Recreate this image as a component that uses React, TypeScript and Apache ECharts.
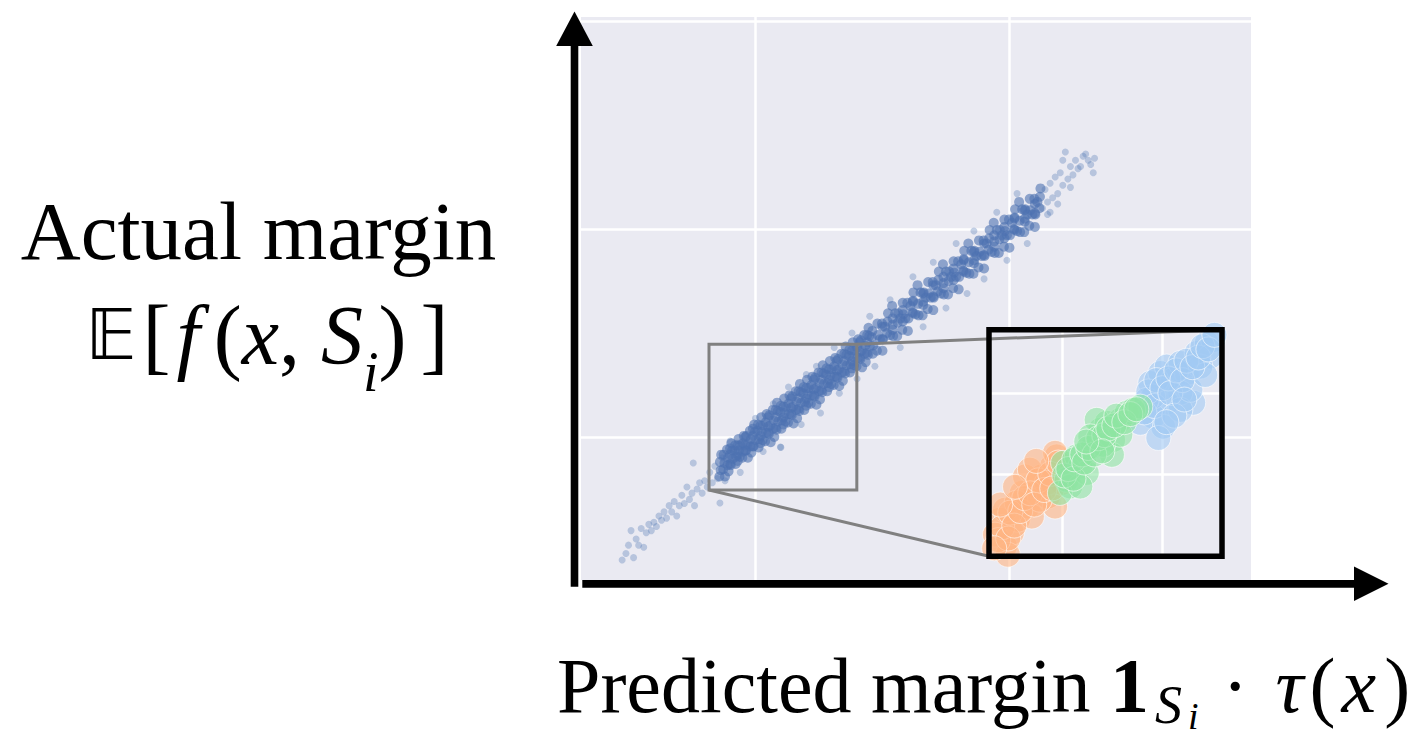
import React, { useEffect, useRef } from "react";
import * as echarts from "echarts";

// ---- axis ranges and gridline values (data units) ----
const MAIN_X_RANGE = [-0.687, 1.951];
const MAIN_Y_RANGE = [-0.6875, 2.019];
const MAIN_X_GRID = [0, 1];
const MAIN_Y_GRID = [0, 1, 2];
const ZOOM_X_RANGE = [-0.183, 0.399];
const ZOOM_Y_RANGE = [-0.255, 0.446];
const INSET_X_GRID = [0, 0.25];
const INSET_Y_GRID = [0, 0.25];

// ---- main scatter: dense core of the band ----
const bandCore = [
  [-0.142,-0.19],[-0.137,-0.16],[-0.140,-0.12],[-0.135,-0.085],
  [-0.127,-0.155],[-0.122,-0.125],[-0.125,-0.085],[-0.120,-0.19],
  [-0.112,-0.06],[-0.108,-0.10],[-0.110,-0.135],[-0.106,-0.165],
  [-0.097,-0.135],[-0.092,-0.065],[-0.095,-0.03],[-0.090,-0.105],
  [-0.082,-0.065],[-0.078,-0.13],[-0.080,-0.04],[-0.076,-0.095],
  [-0.067,-0.01],[-0.062,-0.095],[-0.065,-0.065],[-0.060,-0.04],
  [-0.052,-0.10],[-0.048,-0.07],[-0.050,-0.03],[-0.046,0.005],
  [-0.037,-0.065],[-0.032,-0.035],[-0.035,0.005],[-0.030,-0.10],
  [-0.022,0.03],[-0.018,-0.01],[-0.020,-0.045],[-0.016,-0.075],
  [-0.007,-0.045],[-0.002,0.025],[-0.005,0.06],[0.000,-0.015],
  [0.008,0.03],[0.012,-0.05],[0.010,0.06],[0.014,-0.01],
  [0.023,0.095],[0.028,-0.015],[0.025,0.025],[0.030,0.055],
  [0.038,-0.02],[0.042,0.02],[0.040,0.07],[0.044,0.11],
  [0.053,0.015],[0.058,0.055],[0.055,0.105],[0.060,-0.025],
  [0.068,0.13],[0.072,0.08],[0.070,0.04],[0.074,0.00],
  [0.083,0.035],[0.088,0.125],[0.085,0.165],[0.090,0.075],
  [0.098,0.12],[0.102,0.04],[0.100,0.15],[0.104,0.08],
  [0.113,0.185],[0.118,0.075],[0.115,0.115],[0.120,0.145],
  [0.128,0.07],[0.132,0.11],[0.130,0.16],[0.134,0.20],
  [0.143,0.105],[0.148,0.145],[0.145,0.195],[0.150,0.065],
  [0.158,0.22],[0.162,0.17],[0.160,0.13],[0.164,0.09],
  [0.173,0.125],[0.178,0.215],[0.175,0.255],[0.180,0.165],
  [0.188,0.21],[0.192,0.13],[0.190,0.24],[0.194,0.17],
  [0.203,0.275],[0.208,0.165],[0.205,0.205],[0.210,0.235],
  [0.218,0.16],[0.222,0.20],[0.220,0.25],[0.224,0.29],
  [0.233,0.195],[0.238,0.235],[0.235,0.285],[0.240,0.155],
  [0.248,0.31],[0.252,0.26],[0.250,0.22],[0.254,0.18],
  [0.263,0.215],[0.268,0.305],[0.265,0.345],[0.270,0.255],
  [0.278,0.30],[0.282,0.22],[0.280,0.33],[0.284,0.26],
  [0.293,0.365],[0.298,0.255],[0.295,0.295],[0.300,0.325],
  [0.308,0.25],[0.312,0.29],[0.310,0.34],[0.314,0.38],
  [0.323,0.285],[0.328,0.325],[0.325,0.375],[0.330,0.245],
  [0.338,0.40],[0.342,0.35],[0.340,0.31],[0.344,0.27],
  [0.353,0.305],[0.358,0.395],[0.355,0.435],[0.360,0.345],
  [0.368,0.39],[0.372,0.31],[0.370,0.42],[0.374,0.35],
  [0.383,0.455],[0.388,0.345],[0.385,0.385],[0.390,0.415],
  [0.398,0.34],[0.402,0.38],[0.400,0.43],[0.404,0.47],
  [0.413,0.375],[0.418,0.415],[0.415,0.465],[0.420,0.335],
  [0.428,0.49],[0.432,0.44],[0.430,0.40],[0.434,0.36],
  [0.443,0.395],[0.448,0.485],[0.445,0.525],[0.450,0.435],
  [0.458,0.48],[0.462,0.40],[0.460,0.51],[0.464,0.44],
  [0.478,0.415],[0.482,0.49],[0.48,0.545],[0.49,0.47],
  [0.498,0.545],[0.502,0.47],[0.50,0.415],[0.51,0.53],
  [0.518,0.50],[0.522,0.595],[0.52,0.555],[0.53,0.49],
  [0.538,0.63],[0.542,0.485],[0.54,0.54],[0.55,0.595],
  [0.558,0.485],[0.562,0.595],[0.56,0.55],[0.57,0.57],
  [0.578,0.515],[0.582,0.59],[0.58,0.645],[0.59,0.57],
  [0.598,0.645],[0.602,0.57],[0.60,0.51],[0.61,0.63],
  [0.618,0.60],[0.622,0.695],[0.62,0.655],[0.63,0.59],
  [0.638,0.73],[0.642,0.585],[0.64,0.64],[0.65,0.695],
  [0.658,0.585],[0.662,0.695],[0.66,0.65],[0.67,0.67],
  [0.678,0.615],[0.682,0.69],[0.68,0.745],[0.69,0.67],
  [0.698,0.745],[0.702,0.67],[0.70,0.61],[0.71,0.73],
  [0.718,0.70],[0.722,0.795],[0.72,0.755],[0.73,0.69],
  [0.738,0.83],[0.742,0.685],[0.74,0.74],[0.75,0.795],
  [0.758,0.685],[0.762,0.795],[0.76,0.75],[0.77,0.77],
  [0.778,0.715],[0.782,0.79],[0.78,0.845],[0.79,0.77],
  [0.798,0.845],[0.802,0.77],[0.80,0.71],[0.81,0.83],
  [0.818,0.80],[0.822,0.895],[0.82,0.855],[0.83,0.79],
  [0.838,0.93],[0.842,0.785],[0.84,0.84],[0.85,0.895],
  [0.858,0.785],[0.862,0.895],[0.86,0.85],[0.87,0.87],
  [0.878,0.815],[0.882,0.89],[0.88,0.945],[0.89,0.87],
  [0.898,0.945],[0.902,0.87],[0.90,0.81],[0.91,0.93],
  [0.918,0.90],[0.922,0.995],[0.92,0.955],[0.93,0.89],
  [0.938,1.03],[0.942,0.885],[0.94,0.94],[0.95,0.995],
  [0.958,0.885],[0.962,0.995],[0.96,0.95],[0.97,0.97],
  [0.978,0.915],[0.982,0.99],[0.98,1.045],[0.99,0.97],
  [0.998,1.045],[1.002,0.97],[1.00,0.91],[1.01,1.03],
  [1.018,1.00],[1.022,1.095],[1.02,1.055],[1.03,0.99],
  [1.038,1.13],[1.042,0.985],[1.04,1.04],[1.05,1.095],
  [1.058,0.985],[1.062,1.095],[1.06,1.05],[1.07,1.07],
  [1.078,1.015],[1.082,1.09],[1.08,1.145],[1.09,1.07],
  [1.098,1.145],[1.102,1.07],[1.10,1.01],[1.11,1.13],
  [1.118,1.10],[1.122,1.195],[1.12,1.155],
  [-0.10,-0.13],[-0.10,-0.085],[-0.10,-0.055],[-0.07,-0.04],[-0.07,-0.085],[-0.07,-0.115],
  [-0.04,-0.04],[-0.04,0.00],[-0.04,-0.065],[-0.01,-0.045],[-0.01,0.005],[-0.01,0.04],
  [0.02,0.055],[0.02,0.005],[0.02,-0.03],[0.05,0.05],[0.05,0.095],[0.05,0.02],
  [0.08,0.045],[0.08,0.095],[0.08,0.13],[0.11,0.145],[0.11,0.095],[0.11,0.06],
  [0.14,0.14],[0.14,0.185],[0.14,0.11],[0.17,0.135],[0.17,0.185],[0.17,0.22],
  [0.20,0.235],[0.20,0.185],[0.20,0.15],[0.23,0.23],[0.23,0.275],[0.23,0.20],
  [0.26,0.225],[0.26,0.275],[0.26,0.31],[0.29,0.325],[0.29,0.275],[0.29,0.24],
  [0.32,0.32],[0.32,0.365],[0.32,0.29],[0.35,0.315],[0.35,0.365],[0.35,0.40],
  [0.38,0.415],[0.38,0.365],[0.38,0.33],[0.41,0.41],[0.41,0.455],[0.41,0.38],
  [0.44,0.405],[0.44,0.455],[0.44,0.49],
  [0.50,0.47],[0.50,0.53],[0.54,0.57],[0.54,0.515],[0.58,0.555],[0.58,0.61],
  [0.62,0.65],[0.62,0.595],[0.66,0.635],[0.66,0.69],[0.70,0.73],[0.70,0.675],
  [0.74,0.715],[0.74,0.77],[0.78,0.81],[0.78,0.755],[0.82,0.795],[0.82,0.85],
  [0.86,0.89],[0.86,0.835],[0.90,0.875],[0.90,0.93],[0.94,0.97],[0.94,0.915],
  [0.98,0.955],[0.98,1.01],[1.02,1.05],[1.02,0.995],[1.06,1.035],[1.06,1.09],
  [1.10,1.12],[1.10,1.075]
];

// ---- main scatter: faint tails, halo and outliers ----
const bandSparse = [
  [-0.525,-0.591],[-0.51,-0.56],[-0.50,-0.52],[-0.49,-0.45],[-0.48,-0.58],[-0.47,-0.49],
  [-0.46,-0.52],[-0.45,-0.44],[-0.44,-0.53],[-0.43,-0.46],[-0.42,-0.42],[-0.41,-0.45],
  [-0.40,-0.41],[-0.39,-0.43],[-0.38,-0.38],[-0.37,-0.40],[-0.36,-0.36],[-0.35,-0.39],
  [-0.34,-0.33],[-0.33,-0.36],[-0.32,-0.31],[-0.31,-0.38],[-0.30,-0.33],[-0.29,-0.28],
  [-0.28,-0.32],[-0.27,-0.24],[-0.26,-0.30],[-0.25,-0.27],[-0.245,-0.125],[-0.24,-0.33],
  [-0.23,-0.25],[-0.22,-0.22],[-0.21,-0.27],[-0.20,-0.21],[-0.19,-0.24],[-0.18,-0.17],
  [-0.17,-0.22],[-0.16,-0.14],[-0.15,-0.20],[-0.14,-0.317],[-0.13,-0.10],[-0.12,-0.21],
  [-0.10,-0.02],[-0.06,-0.17],[0.00,0.09],[0.03,-0.07],[0.07,0.16],[0.098,-0.048],
  [0.10,-0.05],[0.13,0.24],[0.18,0.06],[0.20,0.30],[0.256,0.115],[0.24,0.34],
  [0.33,0.21],[0.31,0.43],[0.40,0.28],[0.38,0.50],[0.45,0.58],[0.47,0.34],
  [0.53,0.66],[0.57,0.43],[0.62,0.77],[0.66,0.53],[0.70,0.84],[0.75,0.62],
  [0.79,0.93],[0.833,0.69],[0.86,0.99],[0.90,0.76],[0.95,1.08],[0.99,0.85],
  [1.03,1.17],[1.07,0.93],[1.16,1.08],
  [1.13,1.10],[1.14,1.19],[1.15,1.13],[1.16,1.22],[1.17,1.15],[1.18,1.25],
  [1.19,1.17],[1.20,1.27],[1.21,1.21],[1.21,1.33],[1.22,1.37],[1.23,1.24],
  [1.24,1.30],[1.25,1.26],[1.26,1.33],[1.27,1.29],[1.28,1.30],[1.29,1.35],
  [1.30,1.36],[1.31,1.33],[1.32,1.31],[1.33,1.27],[1.335,1.34],[1.15,1.07],
  [1.19,1.12],[1.24,1.20]
];

// ---- inset scatter groups ----
const insetOrange = [
  [-0.143,-0.224],[-0.126,-0.182],[-0.156,-0.142],[-0.111,-0.142],[-0.143,-0.111],
  [-0.086,-0.101],[-0.101,-0.059],[-0.068,-0.039],[-0.051,-0.008],[-0.026,0.023],
  [-0.014,0.054],[-0.036,-0.070],[-0.018,-0.101],[-0.001,-0.028],[-0.076,-0.132],
  [-0.114,-0.089],[-0.056,-0.080],[-0.093,-0.008],[-0.039,-0.028],[-0.168,-0.188],
  [-0.136,-0.250],[-0.081,0.013],[-0.018,0.065],
  [-0.160,-0.205],[-0.150,-0.165],[-0.135,-0.200],[-0.130,-0.120],[-0.120,-0.160],
  [-0.105,-0.115],[-0.095,-0.075],[-0.080,-0.060],[-0.070,-0.095],[-0.060,-0.020],
  [-0.045,-0.050],[-0.030,0.000],[-0.025,-0.045],[-0.010,0.035],[-0.155,-0.095],
  [-0.118,-0.040],[-0.065,0.040],[-0.170,-0.230]
];
const insetGreen = [
  [0.011,-0.018],[0.002,0.034],[0.036,0.054],[0.020,-0.039],[0.045,0.023],
  [0.077,0.085],[0.095,0.136],[0.111,0.158],[0.127,0.105],[0.145,0.167],
  [0.161,0.189],[0.177,0.198],[0.195,0.208],[0.086,0.167],[0.070,0.116],
  [0.124,0.059],[0.061,0.003],[-0.006,-0.059],[0.045,-0.039],[0.102,0.090],
  [0.145,0.121],
  [0.005,-0.005],[0.015,0.015],[0.028,-0.015],[0.030,0.045],[0.050,0.060],
  [0.055,0.035],[0.065,0.080],[0.080,0.060],[0.090,0.110],[0.105,0.120],
  [0.115,0.140],[0.130,0.150],[0.135,0.180],[0.155,0.160],[0.170,0.185],
  [0.185,0.200],[0.100,0.070],[0.060,0.100]
];
const insetBlue = [
  [0.220,0.281],[0.245,0.312],[0.261,0.332],[0.277,0.291],[0.295,0.343],
  [0.311,0.312],[0.327,0.220],[0.295,0.251],[0.261,0.220],[0.227,0.177],
  [0.252,0.146],[0.195,0.158],[0.336,0.374],[0.361,0.405],[0.377,0.414],
  [0.370,0.363],[0.345,0.332],[0.227,0.239],[0.295,0.198],[0.211,0.229],
  [0.320,0.260],[0.357,0.306],[0.240,0.111],
  [0.205,0.190],[0.215,0.255],[0.230,0.210],[0.235,0.290],[0.250,0.265],
  [0.265,0.295],[0.270,0.250],[0.285,0.320],[0.300,0.290],[0.310,0.350],
  [0.325,0.330],[0.340,0.360],[0.350,0.395],[0.365,0.385],[0.380,0.430],
  [0.280,0.180],[0.305,0.230],[0.260,0.160]
];

const SERIF = "'Liberation Serif', 'Times New Roman', serif";

export default function App() {
  const ref = useRef<HTMLDivElement>(null);

  useEffect(() => {
    if (!ref.current) return;
    const chart = echarts.init(ref.current, undefined, { renderer: "svg" });

    const gridLines = (xs: number[], ys: number[], z: number) => ({
      silent: true,
      z,
      symbol: ["none", "none"],
      label: { show: false },
      emphasis: { disabled: true },
      lineStyle: { color: "#ffffff", width: 2.5, type: "solid", opacity: 1 },
      data: [...xs.map((v) => ({ xAxis: v })), ...ys.map((v) => ({ yAxis: v }))],
    });

    const insetStyle = (color: string) => ({
      color,
      opacity: 0.6,
      borderColor: "#ffffff",
      borderWidth: 1,
    });

    chart.setOption({
      animation: false,
      grid: [
        { left: 581, top: 17, width: 670, height: 563, show: true, backgroundColor: "#EAEAF2", borderWidth: 0, z: 0 },
        { left: 989, top: 329.7, width: 233, height: 226.6, show: true, backgroundColor: "#EAEAF2", borderWidth: 0, z: 3 },
      ],
      xAxis: [
        { type: "value", gridIndex: 0, min: MAIN_X_RANGE[0], max: MAIN_X_RANGE[1], show: false },
        { type: "value", gridIndex: 1, min: ZOOM_X_RANGE[0], max: ZOOM_X_RANGE[1], show: false },
      ],
      yAxis: [
        { type: "value", gridIndex: 0, min: MAIN_Y_RANGE[0], max: MAIN_Y_RANGE[1], show: false },
        { type: "value", gridIndex: 1, min: ZOOM_Y_RANGE[0], max: ZOOM_Y_RANGE[1], show: false },
      ],
      series: [
        {
          type: "scatter",
          xAxisIndex: 0,
          yAxisIndex: 0,
          data: bandSparse,
          symbolSize: 7,
          silent: true,
          z: 2,
          itemStyle: { color: "#4C72B0", opacity: 0.32 },
          markLine: gridLines(MAIN_X_GRID, MAIN_Y_GRID, 1),
        },
        {
          type: "scatter",
          xAxisIndex: 0,
          yAxisIndex: 0,
          data: bandCore,
          symbolSize: 10,
          silent: true,
          z: 2,
          itemStyle: { color: "#4C72B0", opacity: 0.6 },
          markArea: {
            silent: true,
            z: 5,
            label: { show: false },
            itemStyle: { color: "rgba(0,0,0,0)", borderColor: "#808080", borderWidth: 3 },
            data: [[
              { xAxis: ZOOM_X_RANGE[0], yAxis: ZOOM_Y_RANGE[0] },
              { xAxis: ZOOM_X_RANGE[1], yAxis: ZOOM_Y_RANGE[1] },
            ]],
          },
        },
        {
          type: "scatter",
          xAxisIndex: 1,
          yAxisIndex: 1,
          data: insetOrange,
          symbolSize: 25,
          silent: true,
          z: 5,
          itemStyle: insetStyle("#FFB482"),
          markLine: gridLines(INSET_X_GRID, INSET_Y_GRID, 4),
        },
        {
          type: "scatter",
          xAxisIndex: 1,
          yAxisIndex: 1,
          data: insetBlue,
          symbolSize: 25,
          silent: true,
          z: 5,
          itemStyle: insetStyle("#A1C9F4"),
        },
        {
          type: "scatter",
          xAxisIndex: 1,
          yAxisIndex: 1,
          data: insetGreen,
          symbolSize: 25,
          silent: true,
          z: 5,
          itemStyle: insetStyle("#8DE5A1"),
        },
      ],
    });

    const main = { xAxisIndex: 0, yAxisIndex: 0 };
    const ins = { xAxisIndex: 1, yAxisIndex: 1 };
    const boxTR = chart.convertToPixel(main, [ZOOM_X_RANGE[1], ZOOM_Y_RANGE[1]]) as number[];
    const boxBL = chart.convertToPixel(main, [ZOOM_X_RANGE[0], ZOOM_Y_RANGE[0]]) as number[];
    const insTR = chart.convertToPixel(ins, [ZOOM_X_RANGE[1], ZOOM_Y_RANGE[1]]) as number[];
    const insBL = chart.convertToPixel(ins, [ZOOM_X_RANGE[0], ZOOM_Y_RANGE[0]]) as number[];

    chart.setOption({
      graphic: {
        elements: [
          // connectors
          {
            type: "line", z: 50, silent: true,
            shape: { x1: boxTR[0], y1: boxTR[1], x2: insTR[0], y2: insTR[1] },
            style: { stroke: "#808080", lineWidth: 3 },
          },
          {
            type: "line", z: 50, silent: true,
            shape: { x1: boxBL[0], y1: boxBL[1], x2: insBL[0], y2: insBL[1] },
            style: { stroke: "#808080", lineWidth: 3 },
          },
          // inset frame
          {
            type: "rect", z: 60, silent: true,
            shape: { x: insBL[0], y: insTR[1], width: insTR[0] - insBL[0], height: insBL[1] - insTR[1] },
            style: { fill: "none", stroke: "#000000", lineWidth: 5.5 },
          },
          // y arrow
          {
            type: "rect", z: 70, silent: true,
            shape: { x: 570.7, y: 45, width: 7.6, height: 541.7 },
            style: { fill: "#000000" },
          },
          {
            type: "polygon", z: 70, silent: true,
            shape: { points: [[556.2, 46], [592.8, 46], [574.5, 11.5]] },
            style: { fill: "#000000" },
          },
          // x arrow
          {
            type: "rect", z: 70, silent: true,
            shape: { x: 582.3, y: 580, width: 773, height: 7.7 },
            style: { fill: "#000000" },
          },
          {
            type: "polygon", z: 70, silent: true,
            shape: { points: [[1354, 566.5], [1354, 601], [1388.5, 583.8]] },
            style: { fill: "#000000" },
          },
          // y label
          {
            type: "text", z: 80, silent: true, x: 258.5, y: 231,
            style: {
              text: "Actual margin",
              fontFamily: SERIF, fontSize: 83, fill: "#000000",
              align: "center", verticalAlign: "middle",
            },
          },
          {
            type: "text", z: 80, silent: true, x: 267, y: 335,
            style: {
              text: "{bb|𝔼}{r|[}{f|f}{r|(}{i|x}{r|, }{i|S}{sub|i}{r|)}{rb|]}",
              align: "center", verticalAlign: "middle", fill: "#000000",
              rich: {
                bb: { fontFamily: "'DejaVu Sans', 'DejaVu Serif', sans-serif", fontSize: 70, fill: "#000000", padding: [0, 6, 0, 0] },
                r: { fontFamily: SERIF, fontSize: 84, fill: "#000000" },
                rb: { fontFamily: SERIF, fontSize: 84, fill: "#000000", padding: [0, 0, 0, 14] },
                f: { fontFamily: SERIF, fontSize: 84, fontStyle: "italic", fill: "#000000", padding: [0, 14, 0, 6] },
                i: { fontFamily: SERIF, fontSize: 84, fontStyle: "italic", fill: "#000000" },
                sub: { fontFamily: SERIF, fontSize: 56, fontStyle: "italic", fill: "#000000", padding: [73, 0, 0, 0] },
              },
            },
          },
          // x label
          {
            type: "text", z: 80, silent: true, x: 557, y: 685.7,
            style: {
              text: "{r|Predicted margin }{b|1}{s1|S}{s2|i}{r| · }{t|τ}{r|(}{x|x}{r|)}",
              align: "left", verticalAlign: "middle", fill: "#000000",
              rich: {
                r: { fontFamily: SERIF, fontSize: 78, fill: "#000000" },
                b: { fontFamily: SERIF, fontSize: 78, fontWeight: "bold", fill: "#000000" },
                s1: { fontFamily: SERIF, fontSize: 54, fontStyle: "italic", fill: "#000000", padding: [38, 6, 0, 6] },
                s2: { fontFamily: SERIF, fontSize: 38, fontStyle: "italic", fill: "#000000", padding: [60, 4, 0, 0] },
                t: { fontFamily: SERIF, fontSize: 78, fontStyle: "italic", fill: "#000000", padding: [0, 6, 0, 8] },
                x: { fontFamily: SERIF, fontSize: 78, fontStyle: "italic", fill: "#000000", padding: [0, 8, 0, 6] },
              },
            },
          },
        ],
      },
    });

    return () => chart.dispose();
  }, []);

  return (
    <div
      ref={ref}
      style={{ position: "absolute", left: 0, top: 0, width: 1418, height: 737, background: "#ffffff" }}
    />
  );
}
